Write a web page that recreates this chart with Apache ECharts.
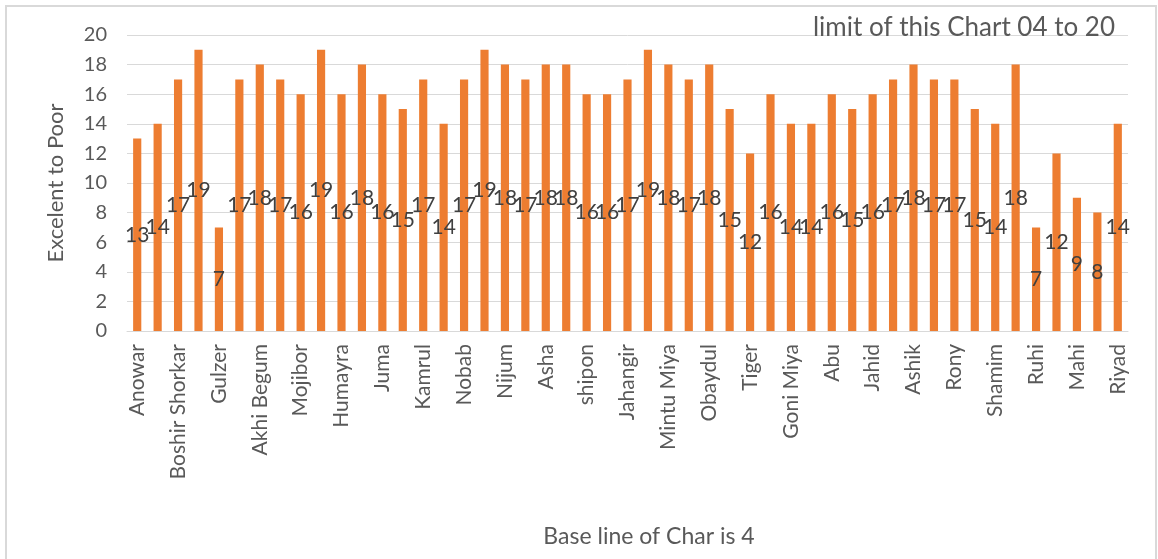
<!DOCTYPE html>
<html>
<head>
<meta charset="utf-8">
<style>
  html, body { margin: 0; padding: 0; background: #fff; }
  #chart { width: 1158px; height: 559px; }
</style>
<script src="https://cdn.jsdelivr.net/npm/echarts@6/dist/echarts.min.js"></script>
</head>
<body>
<div id="chart"></div>
<script>
// Names printed under every second bar; the others stay unlabeled on the axis.
const names = [
  'Anowar', '', 'Boshir Shorkar', '', 'Gulzer', '', 'Akhi Begum', '', 'Mojibor', '',
  'Humayra', '', 'Juma', '', 'Kamrul', '', 'Nobab', '', 'Nijum', '',
  'Asha', '', 'shipon', '', 'Jahangir', '', 'Mintu Miya', '', 'Obaydul', '',
  'Tiger', '', 'Goni Miya', '', 'Abu', '', 'Jahid', '', 'Ashik', '',
  'Rony', '', 'Shamim', '', 'Ruhi', '', 'Mahi', '', 'Riyad'
];

// Score of each person
const scores = [
  13, 14, 17, 19, 7, 17, 18, 17, 16, 19,
  16, 18, 16, 15, 17, 14, 17, 19, 18, 17,
  18, 18, 16, 16, 17, 19, 18, 17, 18, 15,
  12, 16, 14, 14, 16, 15, 16, 17, 18, 17,
  17, 15, 14, 18, 7, 12, 9, 8, 14
];

const yTicks = { min: 0, max: 20, interval: 2 };

const FONT = 'Lato';
const GREY = '#595959';

const chart = echarts.init(document.getElementById('chart'), null, { renderer: 'canvas' });

chart.setOption({
  backgroundColor: '#ffffff',
  animation: false,
  textStyle: { fontFamily: FONT },
  title: {
    text: 'limit of this Chart 04 to 20',
    right: 38,
    top: 10,
    textStyle: { fontFamily: FONT, fontSize: 26, fontWeight: 'normal', color: GREY }
  },
  graphic: [{
    type: 'rect',
    shape: { x: 6, y: 6, width: 1150, height: 560 },
    style: { fill: null, stroke: '#d9d9d9', lineWidth: 2 },
    silent: true,
    z: -1
  }, {
    type: 'text',
    x: 649,
    y: 537,
    style: {
      text: 'Base line of Char is 4',
      fontFamily: FONT,
      fontSize: 23,
      fill: GREY,
      textAlign: 'center',
      textVerticalAlign: 'middle'
    },
    silent: true
  }],
  grid: { left: 127, right: 30, top: 35, bottom: 228, containLabel: false },
  xAxis: {
    type: 'category',
    data: names,
    axisLine: { show: true, lineStyle: { color: '#d9d9d9', width: 1 } },
    axisTick: { show: false },
    axisLabel: {
      interval: 1,
      rotate: 90,
      margin: 13,
      fontFamily: FONT,
      fontSize: 21,
      color: GREY
    }
  },
  yAxis: {
    type: 'value',
    min: yTicks.min,
    max: yTicks.max,
    interval: yTicks.interval,
    name: 'Excelent to Poor',
    nameLocation: 'middle',
    nameGap: 60,
    nameRotate: 90,
    nameTextStyle: { fontFamily: FONT, fontSize: 22, color: GREY },
    axisLine: { show: false },
    axisTick: { show: false },
    axisLabel: { margin: 20, fontFamily: FONT, fontSize: 20, color: GREY },
    splitLine: { lineStyle: { color: '#d9d9d9', width: 1 } }
  },
  series: [{
    type: 'bar',
    data: scores,
    barWidth: '40%',
    itemStyle: { color: '#ED7D31' },
    label: {
      show: true,
      position: 'inside',
      fontFamily: FONT,
      fontSize: 21,
      color: '#404040'
    }
  }]
});
</script>
</body>
</html>
